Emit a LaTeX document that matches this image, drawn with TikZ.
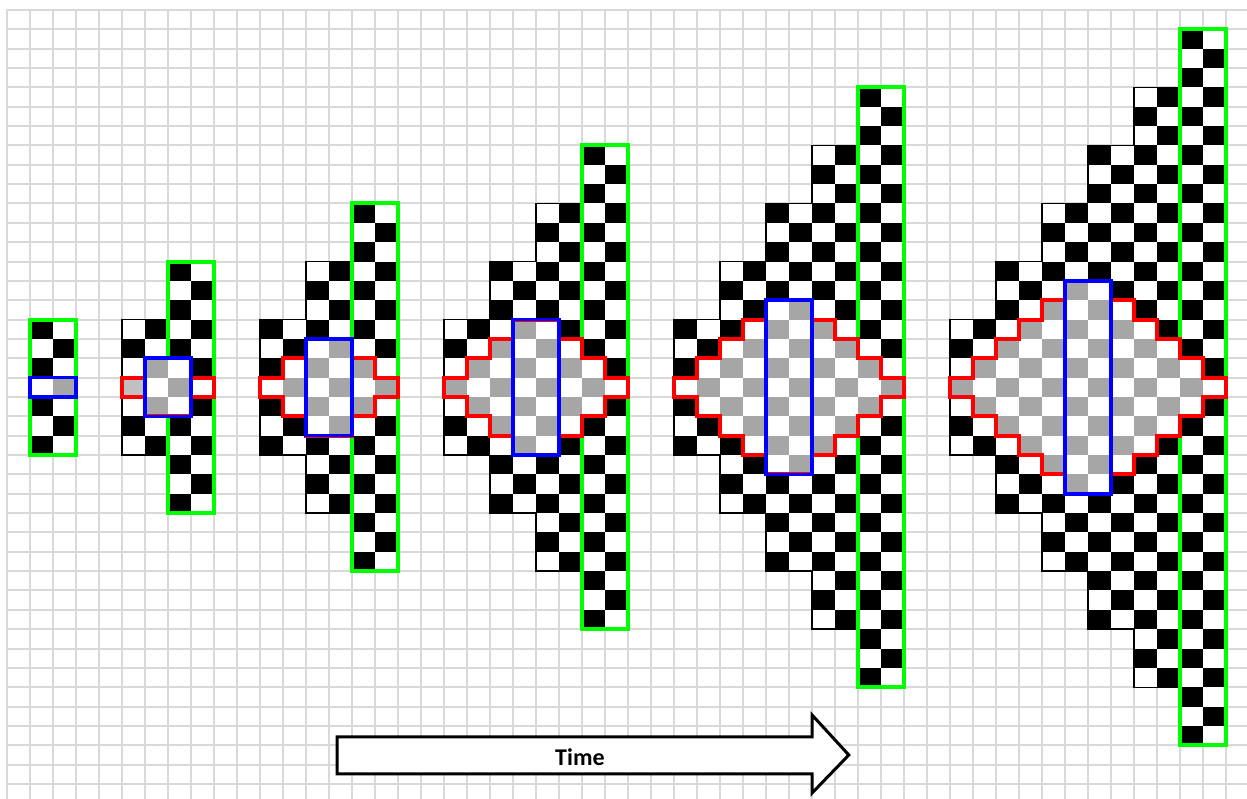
\documentclass[tikz,border=0pt]{standalone}
\usepackage{fontspec}
\setmainfont{Carlito}
\usepackage{xcolor}
\usepackage{tikz}

\definecolor{gridgray}{RGB}{217,217,217}
\definecolor{cellgray}{RGB}{166,166,166}
\definecolor{lightcell}{RGB}{192,192,192}
\definecolor{limegreen}{RGB}{0,255,0}
\definecolor{pathred}{RGB}{255,0,0}
\definecolor{pathblue}{RGB}{0,0,255}

\begin{document}
\begin{tikzpicture}[
    x=11.5pt, y=-9.675pt,
    gridline/.style={gridgray, line width=1pt, line cap=rect},
    outline/.style={black, line width=0.75pt},
    greenbox/.style={draw=limegreen, line width=2pt},
    redbox/.style={draw=pathred, line width=2pt},
    bluebox/.style={draw=pathblue, line width=1.8pt},
    timearrow/.style={draw, fill=white, line width=1.5pt},
    timetext/.style={anchor=base, font=\fontsize{12}{14}\selectfont\bfseries}
]

\useasboundingbox[fill=white] (-0.3043,-0.5168) rectangle (53.913,40.724);

\foreach \i in {0,...,53} \draw[gridline] (\i,0) -- (\i,40.8);
\foreach \j in {0,...,40} \draw[gridline] (0,\j) -- (54,\j);

\foreach \n/\L in {0/1,1/5,2/11,3/19,4/29,5/41}{
  \foreach \k in {0,...,\n}{
    \foreach \c in {0,1}{
      \pgfmathtruncatemacro\lc{2*\k+\c}
      \pgfmathtruncatemacro\rtop{16-3*\k}
      \pgfmathtruncatemacro\rbot{22+3*\k}
      \foreach \r in {\rtop,...,\rbot}{
        \pgfmathtruncatemacro\blk{mod(\lc+\r+\n,2)==0}
        \ifnum\blk=1 \def\cellcol{black}\else\def\cellcol{white}\fi
        \fill[\cellcol] (\L+\lc,\r) rectangle ++(1,1);
      }
    }
  }
}

\foreach \n/\L in {0/1,1/5,2/11,3/19,4/29,5/41}{
  \foreach \k in {0,...,\n}{
    \draw[outline] (\L+2*\k,19-3*\k) -- (\L+2*\k,16-3*\k) -- (\L+2*\k+2,16-3*\k);
    \draw[outline] (\L+2*\k,20+3*\k) -- (\L+2*\k,23+3*\k) -- (\L+2*\k+2,23+3*\k);
  }
  \draw[greenbox] (\L+2*\n,16-3*\n) rectangle (\L+2*\n+2,23+3*\n);
}

\foreach \n/\L in {0/1,1/5,2/11,3/19,4/29,5/41}{
  \pgfmathtruncatemacro\lmax{2*\n+1}
  \foreach \lc in {0,...,\lmax}{
    \pgfmathtruncatemacro\dd{\lc<=\n ? \n-\lc : \lc-\n-1}
    \pgfmathtruncatemacro\rtop{19-\n+\dd}
    \pgfmathtruncatemacro\rbot{19+\n-\dd}
    \foreach \r in {\rtop,...,\rbot}{
      \pgfmathtruncatemacro\blk{mod(\lc+\r+\n,2)==0}
      \ifnum\blk=1 \def\cellcol{cellgray}\else\def\cellcol{white}\fi
      \fill[\cellcol] (\L+\lc,\r) rectangle ++(1,1);
    }
  }
}
\fill[lightcell] (5,19) rectangle ++(1,1);

\foreach \n/\L in {1/5,2/11,3/19,4/29,5/41}{
  \pgfmathtruncatemacro\nm{\n-1}
  \draw[redbox] (\L,19.5)
    \foreach \j in {0,...,\nm}{ -- (\L+\j,19-\j) -- (\L+\j+1,19-\j) }
    -- (\L+\n,19-\n) -- (\L+\n+2,19-\n)
    \foreach \d in {1,...,\n}{ -- (\L+\n+1+\d,19-\n+\d) -- (\L+\n+2+\d,19-\n+\d) }
    \foreach \d in {\n,...,1}{ -- (\L+\n+2+\d,20+\n-\d) -- (\L+\n+1+\d,20+\n-\d) }
    -- (\L+\n+2,20+\n) -- (\L+\n,20+\n)
    \foreach \j in {\nm,...,0}{ -- (\L+\j+1,20+\j) -- (\L+\j,20+\j) }
    -- cycle;
}

\foreach \n/\L in {0/1,1/5,2/11,3/19,4/29,5/41}
  \draw[bluebox] (\L+\n,19-\n) rectangle (\L+\n+2,20+\n);

\draw[timearrow] (14.35,37.57) -- (35,37.57) -- (35,36.43) -- (36.6,38.5)
  -- (35,40.47) -- (35,39.48) -- (14.35,39.48) -- cycle;
\node[timetext] (time) at (24.91,39.02) {Time};

\end{tikzpicture}
\end{document}
